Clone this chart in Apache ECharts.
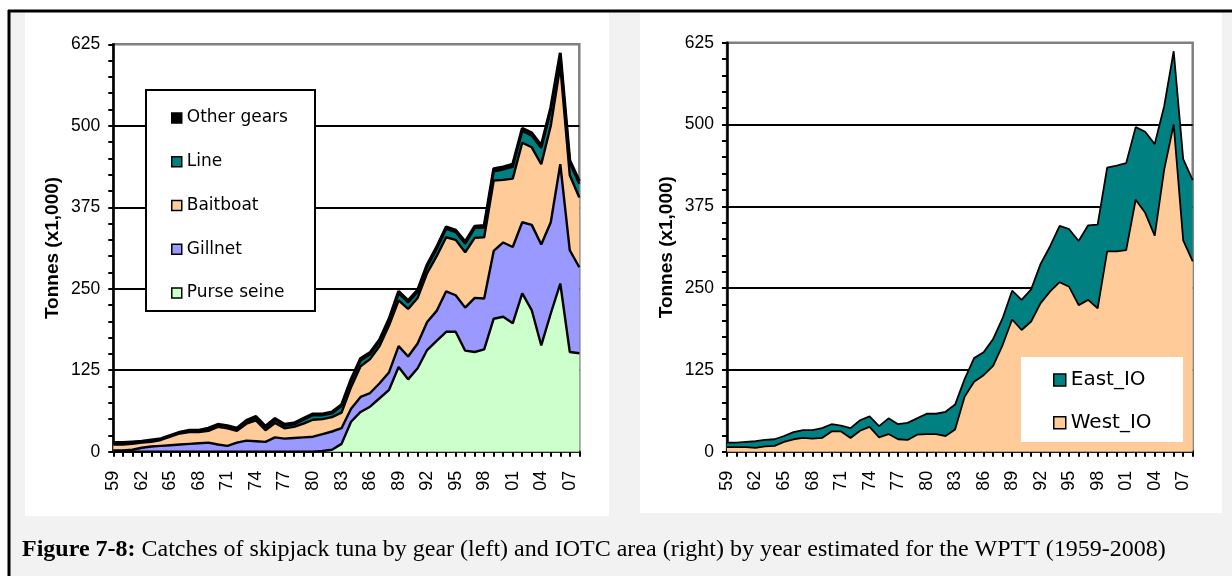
<!DOCTYPE html>
<html><head><meta charset="utf-8">
<script src="https://cdn.jsdelivr.net/npm/echarts@6/dist/echarts.min.js"></script>
<style>html,body{margin:0;padding:0;background:#fff}#c{width:1232px;height:576px}</style>
</head><body><div id="c"></div>
<script>
const years = ['59','60','61','62','63','64','65','66','67','68','69','70','71','72','73','74','75','76','77','78','79','80','81','82','83','84','85','86','87','88','89','90','91','92','93','94','95','96','97','98','99','00','01','02','03','04','05','06','07','08'];
const purseSeine = [0,0,0,0,0,0,0,0,0,0, 0,0,0,0,0,0,0,0,0,0, 0,0,1,3,12,46,61,69,82,95, 130,111,128,156,170,184,184,155,153,157, 204,207,197,243,217,163,212,258,153,151];
const gillnet = [2,2,3,6,8,9,10,11,12,13, 14,11,9,14,17,16,15,22,20,21, 22,23,26,28,24,20,23,21,23,27, 32,35,38,43,46,62,56,66,83,78, 104,114,117,109,131,155,140,183,156,132];
const baitboat = [9,9,9,8,7,9,13,17,18,17, 18,27,27,18,26,32,18,22,16,17, 21,26,23,22,24,33,47,52,57,72, 70,73,70,75,84,83,85,85,92,94, 108,96,105,122,119,123,148,151,115,107];
const lineGear = [1.5,1.5,1.5,0.5,1.5,0.5,0.5,0.5,1.5,1.5, 2,2,2,2,3,4,4,5,4,4, 6,7,6,6,10,9,9,7,7,7, 11,10,9,10,11,13,12,13,15,15, 14,16,18,18,18,25,24,16,19,21];
const otherGears = [1.5,1.5,1.5,1.5,1.5,1.5,1.5,1.5,1.5,1.5, 2,2,2,2,2,2,2,2,2,2, 2,2,2,2,2,3,3,3,3,3, 3,3,3,3,3,3,3,3,3,3, 4,4,4,4,4,4,4,4,4,4];
const westIO = [7,7,7,6,8,9,15,19,21,20, 21,31,31,21,32,38,22,27,19,18, 26,27,27,24,34,84,107,117,131,163, 202,186,199,227,245,259,252,224,232,219, 306,306,308,385,365,330,431,500,323,291];
const eastIO = [7,7,8,10,10,10,9,11,12,13, 15,11,9,15,16,16,17,24,23,26, 25,31,31,37,38,27,36,35,41,41, 44,46,49,60,69,86,88,98,114,128, 128,131,133,111,124,140,97,112,124,124];
const yMin = 0, yMax = 625, yStep = 125;
const gearNames = ['Purse seine','Gillnet','Baitboat','Line','Other gears'];
const areaNames = ['West_IO','East_IO'];
const yTitle = 'Tonnes (x1,000)';
const caption = 'Catches of skipjack tuna by gear (left) and IOTC area (right) by year estimated for the WPTT (1959-2008)';
const captionLabel = 'Figure 7-8:';

const gearColors = ['#CCFFCC','#9999FF','#FFCC99','#008080','#000000'];
const areaColors = ['#FFCC99','#008080'];

function xAxisDef(gi){
  return {
    type:'category', gridIndex:gi, data:years, boundaryGap:false,
    axisLine:{lineStyle:{color:'#000',width:2.5}},
    axisTick:{show:true, interval:0, length:5, lineStyle:{color:'#000',width:2}},
    axisLabel:{interval:2, rotate:90, margin:19, fontFamily:'Liberation Sans', fontSize:18, color:'#000'},
    splitLine:{show:false}
  };
}
function yAxisDef(gi){
  return {
    type:'value', gridIndex:gi, min:yMin, max:yMax, interval:yStep,
    name:yTitle, nameLocation:'middle', nameRotate:90, nameGap:51,
    nameTextStyle:{fontFamily:'Liberation Sans', fontWeight:'bold', fontSize:19, color:'#000'},
    axisLine:{show:true, lineStyle:{color:'#000',width:2.5}},
    axisTick:{show:true, length:5, lineStyle:{color:'#000',width:2}},
    minorTick:{show:true, splitNumber:5, length:5, lineStyle:{color:'#000',width:2}},
    axisLabel:{margin:13, fontFamily:'Liberation Sans', fontSize:17.5, color:'#000'},
    splitLine:{show:true, showMinLine:false, showMaxLine:false, lineStyle:{color:'#000',width:2}}
  };
}
const gearData = [purseSeine, gillnet, baitboat, lineGear, otherGears];
const series = [];
gearNames.forEach((n,i)=>{
  series.push({
    name:n, type:'line', xAxisIndex:0, yAxisIndex:0, stack:'gear', data:gearData[i],
    showSymbol:false, symbol:'none', z:10-i, color:gearColors[i],
    itemStyle:{color:gearColors[i]},
    lineStyle:{color:'#000', width:i===4?3:2.4}, areaStyle:{color:gearColors[i], opacity:1}
  });
});
const areaData = [westIO, eastIO];
areaNames.forEach((n,i)=>{
  series.push({
    name:n, type:'line', xAxisIndex:1, yAxisIndex:1, stack:'area', data:areaData[i],
    showSymbol:false, symbol:'none', z:10-i, color:areaColors[i],
    itemStyle:{color:areaColors[i]},
    lineStyle:{color:'#000', width:1.8}, areaStyle:{color:areaColors[i], opacity:1}
  });
});

const chart = echarts.init(document.getElementById('c'), null, {renderer:'canvas'});
chart.setOption({
  animation:false,
  backgroundColor:'#fff',
  grid:[
    {left:113.3, top:44.3, width:466, height:407.4, show:true, borderColor:'#808080', borderWidth:2.5, backgroundColor:'transparent'},
    {left:727, top:42.7, width:465.7, height:409, show:true, borderColor:'#808080', borderWidth:2.5, backgroundColor:'transparent'}
  ],
  xAxis:[xAxisDef(0), xAxisDef(1)],
  yAxis:[yAxisDef(0), yAxisDef(1)],
  legend:[
    {data:['Other gears','Line','Baitboat','Gillnet','Purse seine'], orient:'vertical', left:171, top:108, z:20,
     itemWidth:10, itemHeight:10, itemGap:23.75, icon:'rect', padding:0,
     itemStyle:{borderColor:'#000', borderWidth:1.5},
     textStyle:{fontFamily:'DejaVu Sans', fontSize:17, lineHeight:20, color:'#000'}},
    {data:['East_IO','West_IO'], orient:'vertical', left:1053, top:368, z:20,
     itemWidth:12, itemHeight:12, itemGap:18.7, icon:'rect', padding:0,
     itemStyle:{borderColor:'#000', borderWidth:1.5},
     textStyle:{fontFamily:'DejaVu Sans', fontSize:20, lineHeight:24, color:'#000'}}
  ],
  graphic:[
    {type:'rect', z:-10, silent:true, shape:{x:10,y:12,width:1222,height:564}, style:{fill:'#f2f2f2'}},
    {type:'rect', z:-9, silent:true, shape:{x:25,y:12,width:584,height:504}, style:{fill:'#fff'}},
    {type:'rect', z:-9, silent:true, shape:{x:640,y:12,width:582,height:501}, style:{fill:'#fff'}},
    {type:'line', z:-8, silent:true, shape:{x1:8,y1:11,x2:1232,y2:11}, style:{stroke:'#000',lineWidth:3}},
    {type:'line', z:-8, silent:true, shape:{x1:9,y1:10,x2:9,y2:576}, style:{stroke:'#000',lineWidth:3}},
    {type:'rect', z:15, silent:true, shape:{x:146,y:90,width:169,height:221}, style:{fill:'#fff', stroke:'#000', lineWidth:2}},
    {type:'rect', z:15, silent:true, shape:{x:1021,y:357,width:162,height:85}, style:{fill:'#fff'}},
    {type:'text', z:15, silent:true, left:22, top:538,
     style:{text:'{b|'+captionLabel+'} '+caption, fontFamily:'Liberation Serif', fontSize:24, fill:'#000',
            rich:{b:{fontFamily:'Liberation Serif', fontSize:24, fontWeight:'bold', fill:'#000'}}}}
  ],
  series:series
});
</script></body></html>
